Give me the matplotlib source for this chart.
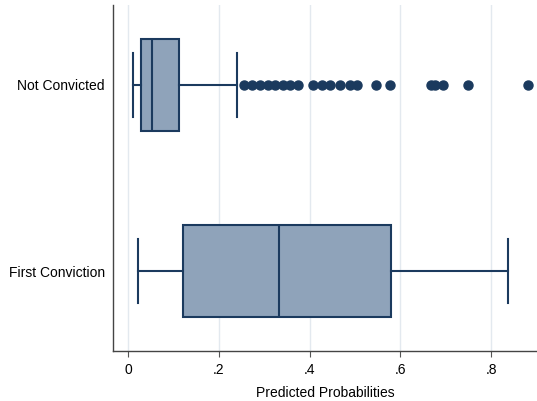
import matplotlib.pyplot as plt

plt.rcParams['font.family'] = ['Liberation Sans', 'DejaVu Sans']

groups = ['First Conviction', 'Not Convicted']
whislo = [0.022, 0.012]
q1 = [0.121, 0.029]
med = [0.333, 0.053]
q3 = [0.580, 0.112]
whishi = [0.837, 0.240]
fliers = [
    [],
    [0.256, 0.273, 0.291, 0.309, 0.324, 0.342, 0.357, 0.375,
     0.408, 0.428, 0.445, 0.467, 0.489, 0.505, 0.547, 0.577,
     0.668, 0.677, 0.694, 0.749, 0.881],
]
ticks = [0, 0.2, 0.4, 0.6, 0.8]
tick_labels = ['0', '.2', '.4', '.6', '.8']

navy = '#1b3a5e'
fill = '#8fa3ba'

stats = []
for i, g in enumerate(groups):
    stats.append(dict(label=g, whislo=whislo[i], q1=q1[i], med=med[i],
                      q3=q3[i], whishi=whishi[i], fliers=fliers[i]))

fig = plt.figure(figsize=(5.37, 4.01), dpi=100)
ax = fig.add_axes([0.2104, 0.1247, 0.7896, 0.8628])

ax.bxp(stats, positions=[1, 2], vert=False, widths=0.495, patch_artist=True,
       boxprops=dict(facecolor=fill, edgecolor=navy, linewidth=1.5),
       medianprops=dict(color=navy, linewidth=1.5),
       whiskerprops=dict(color=navy, linewidth=1.5),
       capprops=dict(color=navy, linewidth=1.5),
       capwidths=0.34,
       flierprops=dict(marker='o', markerfacecolor=navy, markeredgecolor=navy,
                       markersize=6.5))

ax.set_xlim(-0.033, 0.901)
ax.set_ylim(0.57, 2.43)
ax.set_xticks(ticks)
ax.set_xticklabels(tick_labels, fontsize=10)
ax.set_yticks([1, 2])
ax.set_yticklabels(groups, fontsize=10)
ax.tick_params(axis='y', length=0, pad=6)
ax.tick_params(axis='x', length=4, color='#555555', pad=5)
ax.set_xlabel('Predicted Probabilities', fontsize=10, labelpad=6)

ax.grid(axis='x', color='#e3e9ef', linewidth=1)
ax.set_axisbelow(True)
for s in ['top', 'right']:
    ax.spines[s].set_visible(False)
for s in ['left', 'bottom']:
    ax.spines[s].set_color('#444444')
    ax.spines[s].set_linewidth(1)

fig.savefig('out.png', dpi=100)
